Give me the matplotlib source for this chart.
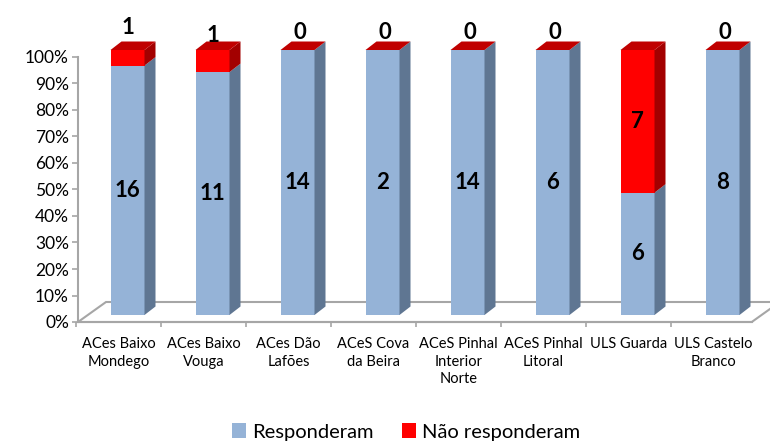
import numpy as np
import matplotlib
matplotlib.use('Agg')
import matplotlib.pyplot as plt
from matplotlib.patches import Polygon, Rectangle, Patch
from matplotlib.ticker import PercentFormatter, FixedLocator

plt.rcParams['font.family'] = ['Lato', 'DejaVu Sans']

categories = ['ACes Baixo\nMondego', 'ACes Baixo\nVouga', 'ACes Dão\nLafões',
              'ACeS Cova\nda Beira', 'ACeS Pinhal\nInterior\nNorte',
              'ACeS Pinhal\nLitoral', 'ULS Guarda', 'ULS Castelo\nBranco']
responderam = np.array([16, 11, 14, 2, 14, 6, 6, 8])
nao_responderam = np.array([1, 1, 0, 0, 0, 0, 7, 0])

total = responderam + nao_responderam
pct_resp = responderam / total * 100
pct_nao = nao_responderam / total * 100

# colours: front / side / top
BLUE = ('#95b3d7', '#5f7692', '#b9cde5')
RED = ('#ff0000', '#a30000', '#c00000')
GRID = '#a6a6a6'

# pixel scale of the axes: 85 px per category, 2.65 px per percent
PX_X, PX_Y = 85.0, 2.65
DX, DY = 11 / PX_X, 8.5 / PX_Y          # bar depth
FDX, FDY = 28 / PX_X, 20 / PX_Y         # floor depth
BAR_W = 34 / PX_X
BAR_SHIFT = 9 / PX_X                    # bars sit a bit back from the front edge
Y0 = 7 / PX_Y

fig = plt.figure(figsize=(7.7, 4.41), dpi=100)
ax = fig.add_axes([76 / 770, 119 / 441, 680 / 770, 265 / 441])
ax.set_xlim(-0.5, 7.5)
ax.set_ylim(0, 100)

x_axis = -0.5 + 2 / PX_X
x_end = 7.45

# floor outline
floor = Polygon([(x_axis, 0), (x_end, 0), (x_end + FDX, FDY), (x_axis + FDX, FDY)],
                closed=True, fc='white', ec=GRID, lw=1.5, clip_on=False, zorder=1)
ax.add_patch(floor)


def box(x0, yb, yt, cols, top=False):
    front, side, topc = cols
    ax.add_patch(Rectangle((x0, yb), BAR_W, yt - yb, fc=front, ec='none',
                           clip_on=False, zorder=3))
    ax.add_patch(Polygon([(x0 + BAR_W, yb), (x0 + BAR_W + DX, yb + DY),
                          (x0 + BAR_W + DX, yt + DY), (x0 + BAR_W, yt)],
                         closed=True, fc=side, ec='none', clip_on=False, zorder=3))
    if top:
        ax.add_patch(Polygon([(x0, yt), (x0 + DX, yt + DY),
                              (x0 + BAR_W + DX, yt + DY), (x0 + BAR_W, yt)],
                             closed=True, fc=topc, ec='none', clip_on=False, zorder=3))


for i in range(len(categories)):
    x0 = i - BAR_W / 2 + BAR_SHIFT
    yb = Y0
    ym = Y0 + pct_resp[i]
    yt = ym + pct_nao[i]
    box(x0, yb, ym, BLUE)
    box(x0, ym, yt, RED, top=True)
    xc = x0 + BAR_W / 2
    ax.text(xc, (yb + ym) / 2, str(responderam[i]), ha='center', va='center',
            fontsize=16, fontweight='bold', zorder=5)
    if pct_nao[i] >= 15:
        ax.text(xc, (ym + yt) / 2, str(nao_responderam[i]), ha='center', va='center',
                fontsize=16, fontweight='bold', zorder=5)
    else:
        # small segments get their label just above the bar
        lift = 8.5 if i == 0 else 5.5 if nao_responderam[i] else 6.5
        ax.text(xc + (0.0 if nao_responderam[i] else 0.03), yt + lift,
                str(nao_responderam[i]), ha='center', va='center',
                fontsize=16, fontweight='bold', zorder=5, clip_on=False)

# axes lines
for s in ['top', 'right']:
    ax.spines[s].set_visible(False)
ax.spines['left'].set_position(('data', x_axis))
ax.spines['bottom'].set_bounds(x_axis, x_end)
for s in ['left', 'bottom']:
    ax.spines[s].set_color(GRID)
    ax.spines[s].set_linewidth(1.5)
    ax.spines[s].set_zorder(2)

ax.set_yticks(np.arange(0, 101, 10))
ax.yaxis.set_major_formatter(PercentFormatter(decimals=0))
ax.tick_params(axis='y', length=4.5, width=1.2, color=GRID, labelsize=12.5, pad=2)

ax.xaxis.set_major_locator(FixedLocator(np.arange(-0.5, 7.0, 1.0)))
ax.xaxis.set_major_formatter(plt.NullFormatter())
ax.set_xticks(np.arange(len(categories)), categories, minor=True)
ax.tick_params(axis='x', which='major', length=3.5, width=1.2, color=GRID)
ax.tick_params(axis='x', which='minor', length=0, pad=11, labelsize=10.5)
for lab in ax.get_xticklabels(minor=True):
    lab.set_linespacing(1.3)
    lab.set_verticalalignment('top')

handles = [Patch(fc=BLUE[0], ec='none', label='Responderam'),
           Patch(fc=RED[0], ec='none', label='Não responderam')]
fig.legend(handles=handles, loc='center', bbox_to_anchor=(406 / 770, 1 - 432 / 441),
           ncol=2, frameon=False, fontsize=14.5, handlelength=0.7, handleheight=0.7,
           handletextpad=0.3, columnspacing=1.4, borderaxespad=0)

fig.savefig('out.png', dpi=100)
